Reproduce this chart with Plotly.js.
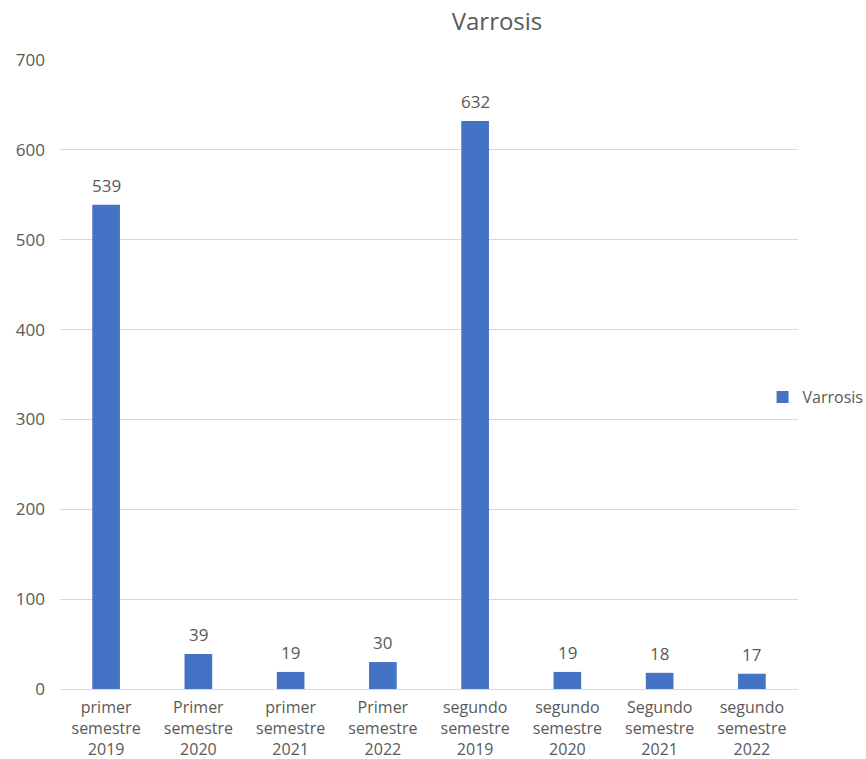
<!DOCTYPE html>
<html>
<head>
<meta charset="utf-8">
<script src="https://cdn.plot.ly/plotly-3.0.1.min.js"></script>
<style>
  html, body { margin: 0; padding: 0; background: #ffffff; }
  #chart { width: 866px; height: 759px; }
</style>
</head>
<body>
<div id="chart"></div>
<script>
// Varrosis cases per semester
const categories = [
  'primer<br>semestre<br>2019',
  'Primer<br>semestre<br>2020',
  'primer<br>semestre<br>2021',
  'Primer<br>semestre<br>2022',
  'segundo<br>semestre<br>2019',
  'segundo<br>semestre<br>2020',
  'Segundo<br>semestre<br>2021',
  'segundo<br>semestre<br>2022'
];
const values = [539, 39, 19, 30, 632, 19, 18, 17];
const seriesName = 'Varrosis';
const yTicks = [0, 100, 200, 300, 400, 500, 600, 700];

const textColor = '#595959';
const gridColor = '#d9d9d9';
const barColor = '#4472c4';
const fontFamily = '"Open Sans", "Noto Sans", sans-serif';

const trace = {
  type: 'bar',
  name: seriesName,
  x: categories,
  y: values,
  marker: { color: barColor },
  hoverinfo: 'skip'
};

// value labels above each bar
const labels = categories.map((c, i) => ({
  x: c,
  y: values[i],
  xref: 'x',
  yref: 'y',
  text: String(values[i]),
  showarrow: false,
  yanchor: 'bottom',
  yshift: 6,
  font: { family: fontFamily, size: 17, color: textColor }
}));

const layout = {
  width: 866,
  height: 759,
  paper_bgcolor: '#ffffff',
  plot_bgcolor: '#ffffff',
  margin: { l: 60, r: 68, t: 60, b: 70, autoexpand: false },
  font: { family: fontFamily, color: textColor },
  title: {
    text: seriesName,
    font: { family: fontFamily, size: 24, color: textColor },
    xref: 'container',
    yref: 'container',
    x: 497 / 866,
    xanchor: 'center',
    y: 1 - 22 / 759,
    yanchor: 'middle'
  },
  bargap: 0.70,
  showlegend: true,
  legend: {
    x: 0.952,
    xanchor: 'left',
    y: 0.464,
    yanchor: 'middle',
    bgcolor: 'rgba(0,0,0,0)',
    font: { family: fontFamily, size: 16, color: textColor },
    itemwidth: 30
  },
  xaxis: {
    type: 'category',
    showgrid: false,
    showline: true,
    linecolor: gridColor,
    linewidth: 1,
    ticks: '',
    ticklabelstandoff: 4,
    tickfont: { family: fontFamily, size: 16, color: textColor },
    tickangle: 0,
    fixedrange: true
  },
  yaxis: {
    range: [0, 700],
    tickvals: yTicks,
    showgrid: true,
    gridcolor: gridColor,
    gridwidth: 1,
    zeroline: false,
    showline: false,
    ticks: '',
    ticklabelstandoff: 14,
    tickfont: { family: fontFamily, size: 17, color: textColor },
    fixedrange: true
  },
  annotations: labels
};

Plotly.newPlot('chart', [trace], layout, { displayModeBar: false, staticPlot: true });
</script>
</body>
</html>
